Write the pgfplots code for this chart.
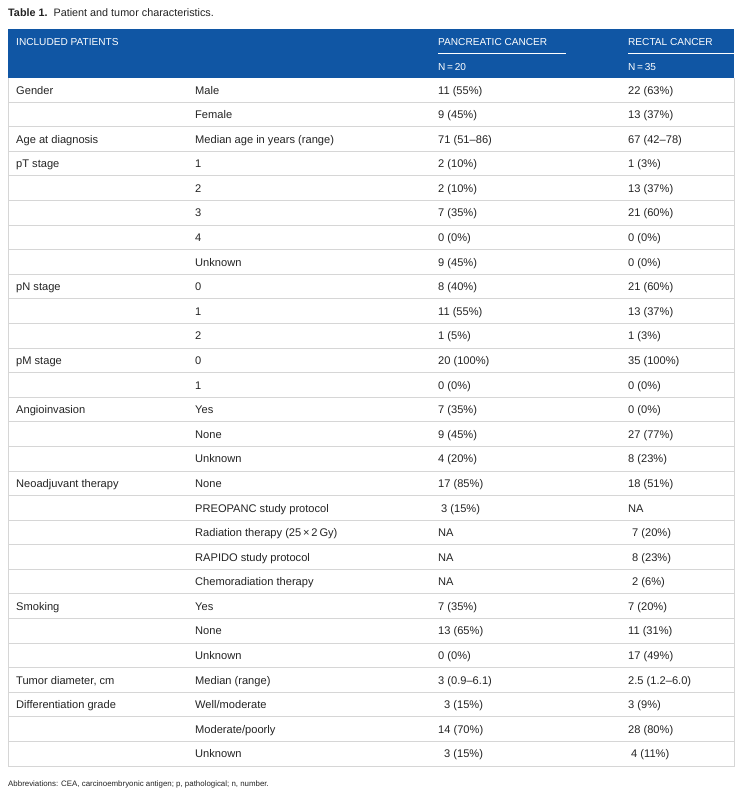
\documentclass[border=0pt]{standalone}
\usepackage{pgfplots}
\pgfplotsset{compat=1.18}
\usepackage{fontspec}
\setmainfont{Liberation Sans}
\definecolor{hdr}{RGB}{16,86,164}
\definecolor{rule}{RGB}{214,214,214}
\definecolor{txt}{RGB}{35,35,35}
\newcommand\R[5]{%
  \node[anchor=base west,font=\fontsize{11.1}{13}\selectfont,text=txt,inner sep=0pt] at (axis cs:16,{94+24.59*#1}) {#2};
  \node[anchor=base west,font=\fontsize{11.1}{13}\selectfont,text=txt,inner sep=0pt] at (axis cs:195,{94+24.59*#1}) {#3};
  \node[anchor=base west,font=\fontsize{11.1}{13}\selectfont,text=txt,inner sep=0pt] at (axis cs:438,{94+24.59*#1}) {#4};
  \node[anchor=base west,font=\fontsize{11.1}{13}\selectfont,text=txt,inner sep=0pt] at (axis cs:628,{94+24.59*#1}) {#5};
}
\begin{document}
\begin{tikzpicture}
\begin{axis}[width=742pt,height=796pt,scale only axis,xmin=0,xmax=742,ymin=0,ymax=796,
  y dir=reverse,axis lines=none,clip=false,ticks=none]
\path (axis cs:0,0) rectangle (axis cs:742,796);
% header
\fill[hdr] (axis cs:8,29) rectangle (axis cs:734,77.5);
\draw[white,line width=0.7pt] (axis cs:438,53) -- (axis cs:566,53);
\draw[white,line width=0.7pt] (axis cs:628,53) -- (axis cs:734,53);
\node[anchor=base west,font=\fontsize{10.1}{12}\selectfont,text=white,inner sep=0pt] at (axis cs:16,45) {INCLUDED PATIENTS};
\node[anchor=base west,font=\fontsize{10.1}{12}\selectfont,text=white,inner sep=0pt] at (axis cs:438,45) {PANCREATIC CANCER};
\node[anchor=base west,font=\fontsize{10.1}{12}\selectfont,text=white,inner sep=0pt] at (axis cs:628,45) {RECTAL CANCER};
\node[anchor=base west,font=\fontsize{10.1}{12}\selectfont,text=white,inner sep=0pt] at (axis cs:438,70) {N\,=\,20};
\node[anchor=base west,font=\fontsize{10.1}{12}\selectfont,text=white,inner sep=0pt] at (axis cs:628,70) {N\,=\,35};
% rules
\pgfplotsinvokeforeach{1,...,27}{\draw[rule,line width=0.8pt] (axis cs:8,{77.5+24.59*#1}) -- (axis cs:734,{77.5+24.59*#1});}
\draw[rule,line width=0.8pt] (axis cs:8,77.5) -- (axis cs:8,766.5) -- (axis cs:734,766.5) -- (axis cs:734,77.5);
% title and footnote
\node[anchor=base west,font=\fontsize{10.8}{12}\selectfont,text=txt,inner sep=0pt] at (axis cs:8,16) {\textbf{Table 1.}\ \ Patient and tumor characteristics.};
\node[anchor=base west,font=\fontsize{7.9}{10}\selectfont,text=txt,inner sep=0pt] at (axis cs:8,786) {Abbreviations: CEA, carcinoembryonic antigen; p, pathological; n, number.};
% rows
\R{0}{Gender}{Male}{11 (55\%)}{22 (63\%)}
\R{1}{}{Female}{9 (45\%)}{13 (37\%)}
\R{2}{Age at diagnosis}{Median age in years (range)}{71 (51--86)}{67 (42--78)}
\R{3}{pT stage}{1}{2 (10\%)}{1 (3\%)}
\R{4}{}{2}{2 (10\%)}{13 (37\%)}
\R{5}{}{3}{7 (35\%)}{21 (60\%)}
\R{6}{}{4}{0 (0\%)}{0 (0\%)}
\R{7}{}{Unknown}{9 (45\%)}{0 (0\%)}
\R{8}{pN stage}{0}{8 (40\%)}{21 (60\%)}
\R{9}{}{1}{11 (55\%)}{13 (37\%)}
\R{10}{}{2}{1 (5\%)}{1 (3\%)}
\R{11}{pM stage}{0}{20 (100\%)}{35 (100\%)}
\R{12}{}{1}{0 (0\%)}{0 (0\%)}
\R{13}{Angioinvasion}{Yes}{7 (35\%)}{0 (0\%)}
\R{14}{}{None}{9 (45\%)}{27 (77\%)}
\R{15}{}{Unknown}{4 (20\%)}{8 (23\%)}
\R{16}{Neoadjuvant therapy}{None}{17 (85\%)}{18 (51\%)}
\R{17}{}{PREOPANC study protocol}{\hspace*{3pt}3 (15\%)}{NA}
\R{18}{}{Radiation therapy (25\,\texttimes\,2\,Gy)}{NA}{\hspace*{4pt}7 (20\%)}
\R{19}{}{RAPIDO study protocol}{NA}{\hspace*{4pt}8 (23\%)}
\R{20}{}{Chemoradiation therapy}{NA}{\hspace*{4pt}2 (6\%)}
\R{21}{Smoking}{Yes}{7 (35\%)}{7 (20\%)}
\R{22}{}{None}{13 (65\%)}{11 (31\%)}
\R{23}{}{Unknown}{0 (0\%)}{17 (49\%)}
\R{24}{Tumor diameter, cm}{Median (range)}{3 (0.9--6.1)}{2.5 (1.2--6.0)}
\R{25}{Differentiation grade}{Well/moderate}{\hspace*{6pt}3 (15\%)}{3 (9\%)}
\R{26}{}{Moderate/poorly}{14 (70\%)}{28 (80\%)}
\R{27}{}{Unknown}{\hspace*{6pt}3 (15\%)}{\hspace*{3pt}4 (11\%)}
\end{axis}
\end{tikzpicture}
\end{document}
